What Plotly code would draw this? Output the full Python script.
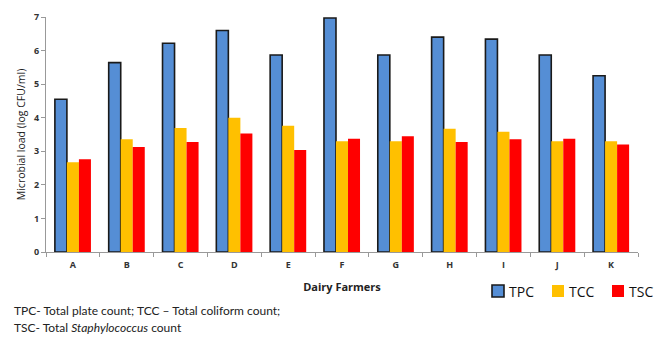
import plotly.graph_objects as go

# Microbial load per dairy farmer (log CFU/ml)
farmers = ["A", "B", "C", "D", "E", "F", "G", "H", "I", "J", "K"]
tpc = [4.55, 5.64, 6.22, 6.6, 5.87, 6.97, 5.87, 6.4, 6.34, 5.87, 5.25]
tcc = [2.67, 3.36, 3.69, 4.0, 3.76, 3.30, 3.30, 3.67, 3.58, 3.30, 3.30]
tsc = [2.76, 3.13, 3.28, 3.53, 3.04, 3.37, 3.45, 3.28, 3.36, 3.37, 3.20]
y_ticks = [0, 1, 2, 3, 4, 5, 6, 7]

series = [
    ("TPC", tpc, "#558ED5", dict(color="#1a1a1a", width=1.6)),
    ("TCC", tcc, "#FFC000", dict(width=0)),
    ("TSC", tsc, "#FF0000", dict(width=0)),
]

W, H = 663, 339
L, R, T, B = 46, 25, 17, 87
PW, PH = W - L - R, H - T - B


def px(x):
    return (x - L) / PW


def py(y):
    return (H - B - y) / PH


fig = go.Figure()
for name, vals, color, outline in series:
    fig.add_trace(go.Bar(name=name, x=farmers, y=vals, marker=dict(color=color, line=outline)))

fig.update_layout(
    width=W, height=H,
    margin=dict(l=L, r=R, t=T, b=B, autoexpand=False),
    plot_bgcolor="white", paper_bgcolor="white",
    barmode="group", bargap=0.33, bargroupgap=0,
    showlegend=False,
    font=dict(family="Open Sans", color="#222222"),
    xaxis=dict(
        showline=True, linecolor="#999999", linewidth=1,
        ticks="outside", tickson="boundaries", ticklen=4, tickcolor="#999999",
        ticklabelstandoff=4,
        tickfont=dict(family="Open Sans", size=9, color="#333333", weight="bold"),
        title=dict(text="Dairy Farmers", font=dict(family="Open Sans", size=11, color="#222222", weight="bold"), standoff=13),
        automargin=False,
    ),
    yaxis=dict(
        range=[0, 7], tickvals=y_ticks, showgrid=False, zeroline=False,
        showline=True, linecolor="#999999", linewidth=1,
        ticks="outside", ticklen=4, tickcolor="#999999",
        tickfont=dict(family="Open Sans", size=9, color="#333333", weight="bold"),
        title=dict(text="Microbial load (log CFU/ml)", font=dict(family="Open Sans", size=10.5, color="#222222"), standoff=6),
        automargin=False,
    ),
)

# Legend key: square swatch followed by series name
legend_x = [492, 552, 612]
legend_y = 291
for (name, _, color, outline), x0 in zip(series, legend_x):
    fig.add_shape(
        type="rect", xref="paper", yref="paper",
        x0=px(x0), x1=px(x0 + 12), y0=py(legend_y + 6), y1=py(legend_y - 6),
        fillcolor=color,
        line=dict(color=outline.get("color", color), width=1.6 if outline.get("width") else 0),
    )
    fig.add_annotation(
        xref="paper", yref="paper", x=px(x0 + 15), y=py(legend_y),
        xanchor="left", yanchor="middle", showarrow=False, text=name,
        font=dict(family="Open Sans", size=14, color="#111111"),
    )

# Abbreviation key below the chart
fig.add_annotation(
    xref="paper", yref="paper", x=px(12), y=py(310),
    xanchor="left", yanchor="middle", showarrow=False, align="left",
    text="TPC- Total plate count; TCC – Total coliform count;",
    font=dict(family="Lato", size=12, color="#222222"),
)
fig.add_annotation(
    xref="paper", yref="paper", x=px(12), y=py(327),
    xanchor="left", yanchor="middle", showarrow=False, align="left",
    text="TSC- Total <i>Staphylococcus</i> count",
    font=dict(family="Lato", size=12, color="#222222"),
)

fig.write_html("out.html")
